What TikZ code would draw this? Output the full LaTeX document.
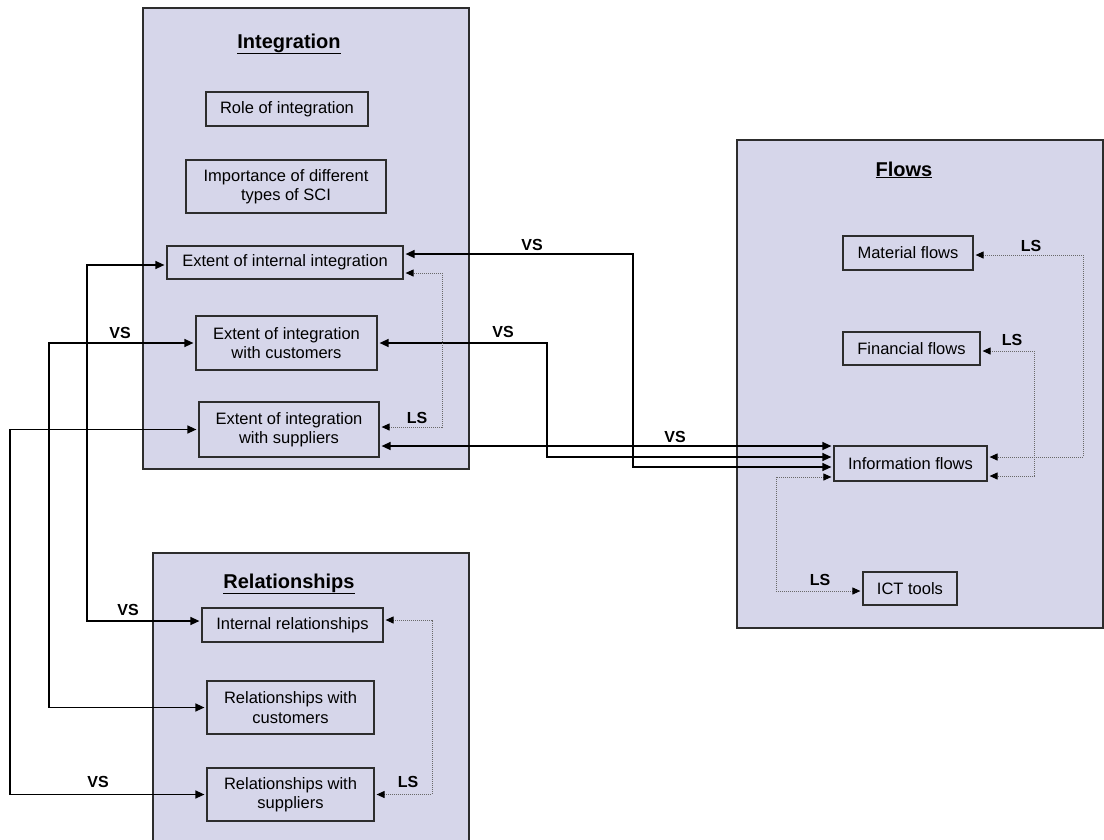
\documentclass[tikz,border=0pt]{standalone}
\usepackage{fontspec}
\setmainfont{Liberation Sans}
\usetikzlibrary{arrows.meta}
\definecolor{panel}{RGB}{214,214,234}
\definecolor{edge}{RGB}{45,45,45}
\definecolor{dots}{RGB}{105,105,105}

\begin{document}
\begin{tikzpicture}[x=1pt,y=-1pt,
  panelbox/.style={draw=edge, line width=1.3pt, fill=panel, inner sep=0pt},
  item/.style={draw=edge, line width=1.2pt, inner sep=0pt, align=center,
    font=\fontsize{16.5}{19.5}\selectfont},
  heading/.style={font=\fontsize{20}{24}\selectfont\bfseries, anchor=base, inner sep=0pt},
  tag/.style={font=\fontsize{16}{19}\selectfont\bfseries, inner sep=0pt},
  vs/.style={draw=black, line width=1.3pt,
    {Triangle[length=9pt,width=8pt]}-{Triangle[length=9pt,width=8pt]},
    shorten <=2pt, shorten >=2pt},
  ls/.style={draw=dots, line width=1pt, dash pattern=on 1pt off 1pt,
    {Triangle[length=8pt,width=7pt,color=black]}-{Triangle[length=8pt,width=7pt,color=black]},
    shorten <=2pt, shorten >=2pt}
]
\useasboundingbox (0,0) rectangle (1104,839);

% panels
\node[panelbox, minimum width=326pt, minimum height=461pt] (pint) at (306,238.5) {};
\node[panelbox, minimum width=366pt, minimum height=488pt] (pflow) at (920,384) {};
\node[panelbox, minimum width=316pt, minimum height=292pt] (prel) at (311,699) {};

% panel headings
\node[heading] (hint) at (289,48) {\underline{Integration}};
\node[heading] (hflow) at (904,176) {\underline{Flows}};
\node[heading] (hrel) at (289,588) {\underline{Relationships}};

% integration items
\node[item, minimum width=162pt, minimum height=34pt] (role) at (287,109) {Role of integration};
\node[item, minimum width=200pt, minimum height=53pt] (import) at (286,186.5) {Importance of different\\types of SCI};
\node[item, minimum width=236pt, minimum height=33pt] (intint) at (285,262.5) {Extent of internal integration};
\node[item, minimum width=181pt, minimum height=54pt] (custint) at (286.5,343) {Extent of integration\\with customers};
\node[item, minimum width=180pt, minimum height=55pt] (supint) at (289,429.5) {Extent of integration\\with suppliers};

% flow items
\node[item, minimum width=130pt, minimum height=34pt] (material) at (908,253) {Material flows};
\node[item, minimum width=137pt, minimum height=33pt] (financial) at (911.5,348.5) {Financial flows};
\node[item, minimum width=153pt, minimum height=35pt] (info) at (910.5,463.5) {Information flows};
\node[item, minimum width=94pt, minimum height=33pt] (ict) at (910,588.5) {ICT tools};

% relationship items
\node[item, minimum width=181pt, minimum height=34pt] (intrel) at (292.5,625) {Internal relationships};
\node[item, minimum width=167pt, minimum height=53pt] (custrel) at (290.5,707.5) {Relationships with\\customers};
\node[item, minimum width=167pt, minimum height=53pt] (suprel) at (290.5,794.5) {Relationships with\\suppliers};

% VS connectors
\draw[vs] ([yshift=-2.5pt]intint.west) -| (87,621) -- ([yshift=4pt]intrel.west);
\draw[vs] (custint.west) -| (49,707.5) -- (custrel.west);
\draw[vs] (supint.west) -| (10,794.5) -- (suprel.west);
\draw[vs] ([yshift=8.5pt]intint.east) -| (633,467) -- ([yshift=-3.5pt]info.west);
\draw[vs] (custint.east) -| (547,457) -- ([yshift=6.5pt]info.west);
\draw[vs] ([yshift=-16.5pt]supint.east) -- ([yshift=17.5pt]info.west);

% LS connectors
\draw[ls] ([yshift=2.5pt]supint.east) -| (442,273) -- ([yshift=-10.5pt]intint.east);
\draw[ls] ([yshift=5pt]intrel.east) -| (432,794.5) -- (suprel.east);
\draw[ls] ([yshift=-2pt]material.east) -| (1083,457) -- ([yshift=6.5pt]info.east);
\draw[ls] ([yshift=-2.5pt]financial.east) -| (1034,476) -- ([yshift=-12.5pt]info.east);
\draw[ls] ([yshift=-13.5pt]info.west) -| (776,591) -- ([yshift=-2.5pt]ict.west);

% connector labels
\node[tag] (vsa) at (532,245) {VS};
\node[tag] (vsb) at (120,333) {VS};
\node[tag] (vsc) at (503,332) {VS};
\node[tag] (vsd) at (675,437) {VS};
\node[tag] (vse) at (128,610) {VS};
\node[tag] (vsf) at (98,782) {VS};
\node[tag] (lsa) at (417,418) {LS};
\node[tag] (lsb) at (1031,246) {LS};
\node[tag] (lsc) at (1012,340) {LS};
\node[tag] (lsd) at (820,580) {LS};
\node[tag] (lse) at (408,782) {LS};
\end{tikzpicture}
\end{document}
